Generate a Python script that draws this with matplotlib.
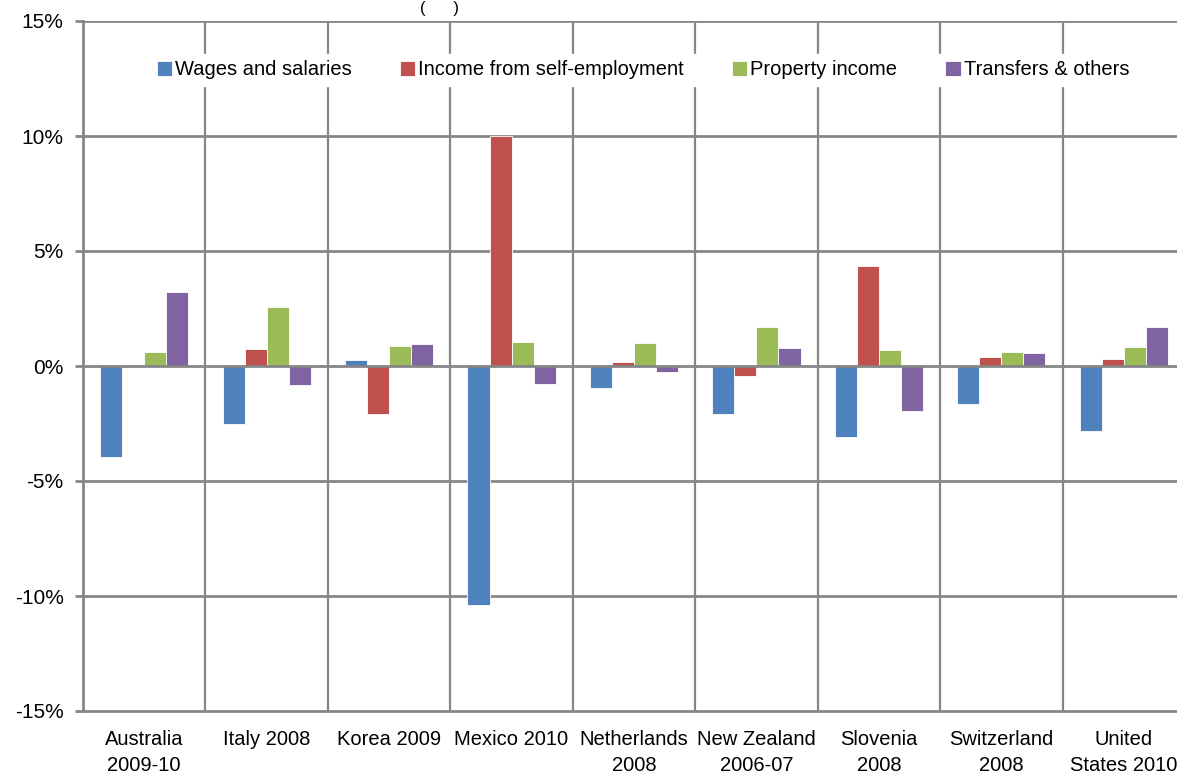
import numpy as np
import matplotlib
matplotlib.use("Agg")
import matplotlib.pyplot as plt
from matplotlib.ticker import FuncFormatter

plt.rcParams['font.family'] = ['Liberation Sans', 'DejaVu Sans']

countries = ["Australia\n2009-10", "Italy 2008", "Korea 2009", "Mexico 2010",
             "Netherlands\n2008", "New Zealand\n2006-07", "Slovenia\n2008",
             "Switzerland\n2008", "United\nStates 2010"]
series = ["Wages and salaries", "Income from self-employment",
          "Property income", "Transfers & others"]
wages = [-3.95, -2.5, 0.25, -10.4, -0.95, -2.1, -3.1, -1.67, -2.84]
self_emp = [0.05, 0.73, -2.1, 10.0, 0.17, -0.44, 4.33, 0.38, 0.3]
prop = [0.6, 2.55, 0.87, 1.03, 0.98, 1.68, 0.68, 0.6, 0.82]
transfers = [3.2, -0.83, 0.95, -0.78, -0.25, 0.78, -1.95, 0.57, 1.68]
colors = ["#4F81BD", "#C0504D", "#9BBB59", "#8064A2"]

fig = plt.figure(figsize=(11.77, 7.78), dpi=100)
ax = fig.add_axes([83 / 1177, 67 / 778, 1102 / 1177, 690 / 778])

x = np.arange(len(countries))
w = 0.18
for i, (vals, name) in enumerate(zip([wages, self_emp, prop, transfers], series)):
    ax.bar(x + (i - 1.5) * w, vals, w, color=colors[i], label=name,
           edgecolor="white", linewidth=0.6, zorder=3)

ax.set_xlim(-0.5, len(countries) - 0.5)
ax.set_ylim(-15, 15)
ax.set_yticks([-15, -10, -5, 0, 5, 10, 15])
ax.yaxis.set_major_formatter(FuncFormatter(lambda v, p: "%d%%" % v))

grid_c = "#868686"
for b in np.arange(0.5, len(countries) - 0.5, 1):
    ax.axvline(b, color=grid_c, lw=1.6, zorder=1)
for yv in [-10, -5, 0, 5, 10, 15]:
    ax.axhline(yv, color=grid_c, lw=2, zorder=2 if yv != 0 else 4)

for s in ["top", "right"]:
    ax.spines[s].set_visible(False)
for s in ["left", "bottom"]:
    ax.spines[s].set_color(grid_c)
    ax.spines[s].set_linewidth(2)

ax.set_xticks(x)
ax.set_xticklabels(countries, fontsize=14.5, va="top", linespacing=1.45)
ax.tick_params(axis="x", length=0, pad=14)
ax.tick_params(axis="y", length=6, width=2, color=grid_c, labelsize=15, pad=8)

leg = ax.legend(loc="center", bbox_to_anchor=(0.508, 0.929), ncol=4, frameon=True,
                fontsize=14.5, handlelength=0.75, handleheight=0.8, handletextpad=0.15,
                columnspacing=2.4, borderpad=0.3, fancybox=False)
leg.get_frame().set_edgecolor("white")
leg.get_frame().set_facecolor("white")
leg.get_frame().set_alpha(1)
leg.set_zorder(5)

# remnant of the cropped title at the very top
fig.text(440 / 1177, 0.999, "(      )", ha="center", va="top", fontsize=12)

fig.savefig("out.png", dpi=100)
